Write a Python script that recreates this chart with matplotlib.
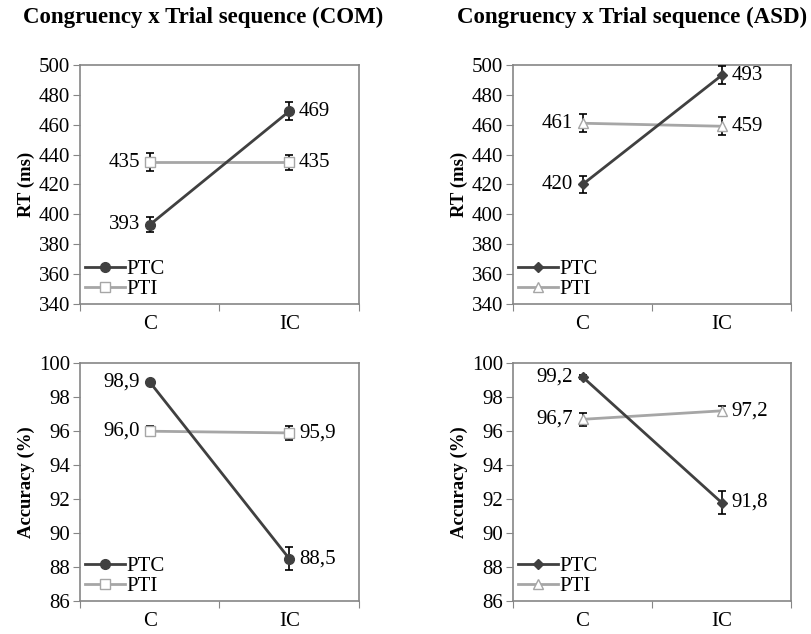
# Congruency x Trial sequence: RT e accuracy para COM e ASD
import matplotlib
matplotlib.use("Agg")
import matplotlib.pyplot as plt
from matplotlib.lines import Line2D

plt.rcParams["font.family"] = ["Liberation Serif", "DejaVu Serif"]

CONDICOES = ["C", "IC"]

# tempos de reação (ms)
rt_com_ptc = [393, 469]
rt_com_ptc_err = [5, 6]
rt_com_pti = [435, 435]
rt_com_pti_err = [6, 5]
rt_asd_ptc = [420, 493]
rt_asd_ptc_err = [6, 6]
rt_asd_pti = [461, 459]
rt_asd_pti_err = [6, 6]

# accuracy (%)
acc_com_ptc = [98.9, 88.5]
acc_com_ptc_err = [0.1, 0.7]
acc_com_pti = [96.0, 95.9]
acc_com_pti_err = [0.3, 0.4]
acc_asd_ptc = [99.2, 91.8]
acc_asd_ptc_err = [0.1, 0.7]
acc_asd_pti = [96.7, 97.2]
acc_asd_pti_err = [0.4, 0.3]

ESCURO = "#404040"
CLARO = "#a6a6a6"
SPINE = "#868686"
FS = 15


def painel(ax, ptc, ptc_err, pti, pti_err, mk_ptc, mk_pti, ylim, yticks,
           ylabel, fmt):
  x = [0, 1]
  ms_ptc = 7 if mk_ptc == "o" else 5.5
  ax.errorbar(x, ptc, yerr=ptc_err, color=ESCURO, marker=mk_ptc,
              markersize=ms_ptc, lw=2, ecolor="black", elinewidth=1.2,
              capsize=3, capthick=1.2, zorder=3)
  ax.errorbar(x, pti, yerr=pti_err, color=CLARO, marker=mk_pti,
              markersize=7, mfc="white", mec=CLARO, lw=2, ecolor="black",
              elinewidth=1.2, capsize=3, capthick=1.2, zorder=2)
  for serie in (ptc, pti):
    ax.annotate(fmt(serie[0]), (0, serie[0]), xytext=(-7, 0),
                textcoords="offset points", ha="right", va="center",
                fontsize=FS)
    ax.annotate(fmt(serie[1]), (1, serie[1]), xytext=(7, 0),
                textcoords="offset points", ha="left", va="center",
                fontsize=FS)
  ax.set_xlim(-0.5, 1.5)
  ax.set_ylim(*ylim)
  ax.set_yticks(yticks)
  ax.set_xticks([-0.5, 0.5, 1.5])
  ax.set_xticklabels([])
  ax.set_xticks([0, 1], minor=True)
  ax.set_xticklabels(CONDICOES, minor=True)
  ax.tick_params(axis="x", which="minor", length=0, labelsize=FS, pad=8)
  ax.tick_params(axis="x", which="major", length=5, color=SPINE,
                 direction="out")
  ax.tick_params(axis="y", length=5, color=SPINE, labelsize=FS, pad=2)
  for s in ax.spines.values():
    s.set_color(SPINE)
    s.set_linewidth(1.2)
  ax.set_ylabel(ylabel, fontsize=13.5, fontweight="bold", labelpad=3)
  handles = [
    Line2D([], [], color=ESCURO, lw=2, marker=mk_ptc, markersize=ms_ptc),
    Line2D([], [], color=CLARO, lw=2, marker=mk_pti, markersize=7,
           mfc="white", mec=CLARO),
  ]
  ax.legend(handles, ["PTC", "PTI"], loc="lower left", frameon=False,
            fontsize=FS, handlelength=1.9, borderpad=0.0, labelspacing=0.0,
            handletextpad=0.1, borderaxespad=0.25)


fig = plt.figure(figsize=(8.11, 6.34), dpi=100)
ax_tl = fig.add_axes([0.0986, 0.5205, 0.344, 0.377])
ax_tr = fig.add_axes([0.6325, 0.5205, 0.343, 0.377])
ax_bl = fig.add_axes([0.0986, 0.052, 0.344, 0.375])
ax_br = fig.add_axes([0.6325, 0.052, 0.343, 0.375])

rt_fmt = lambda v: f"{v:.0f}"
acc_fmt = lambda v: f"{v:.1f}".replace(".", ",")

painel(ax_tl, rt_com_ptc, rt_com_ptc_err, rt_com_pti, rt_com_pti_err,
       "o", "s", (340, 500), range(340, 501, 20), "RT (ms)", rt_fmt)
painel(ax_tr, rt_asd_ptc, rt_asd_ptc_err, rt_asd_pti, rt_asd_pti_err,
       "D", "^", (340, 500), range(340, 501, 20), "RT (ms)", rt_fmt)
painel(ax_bl, acc_com_ptc, acc_com_ptc_err, acc_com_pti, acc_com_pti_err,
       "o", "s", (86, 100), range(86, 101, 2), "Accuracy (%)", acc_fmt)
painel(ax_br, acc_asd_ptc, acc_asd_ptc_err, acc_asd_pti, acc_asd_pti_err,
       "D", "^", (86, 100), range(86, 101, 2), "Accuracy (%)", acc_fmt)

fig.text(203 / 811, 0.972, "Congruency x Trial sequence (COM)", ha="center",
         va="center", fontsize=16.5, fontweight="bold")
fig.text(632 / 811, 0.972, "Congruency x Trial sequence (ASD)", ha="center",
         va="center", fontsize=16.5, fontweight="bold")

fig.savefig("out.png", dpi=100)
